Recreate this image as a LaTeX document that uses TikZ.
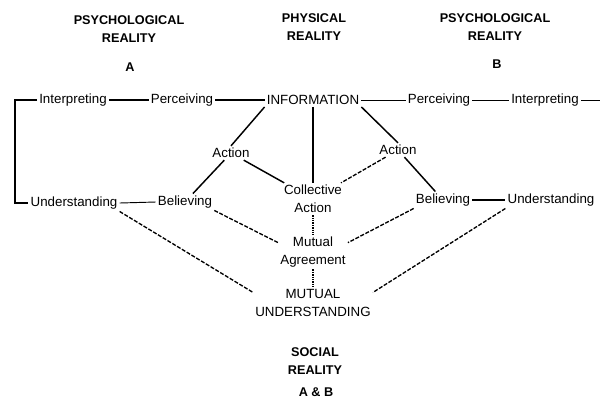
\documentclass[tikz,border=0pt]{standalone}
\usepackage{fontspec}
\setmainfont{Liberation Sans}
\begin{document}
\begin{tikzpicture}[x=0.75pt,y=-0.75pt,
  lbl/.style={inner sep=1.5pt, font=\fontsize{10}{13.5}\selectfont, align=center},
  hdr/.style={inner sep=1pt, font=\fontsize{9.5}{13.5}\selectfont\bfseries, align=center},
  con/.style={line width=1.1pt},
  thinline/.style={line width=0.7pt},
  dsh/.style={line width=1pt, dash pattern=on 3pt off 1.2pt},
  dotline/.style={line width=1.2pt, dash pattern=on 1pt off 0.8pt}]
\useasboundingbox (0,0) rectangle (602,405);
% headings
\node[hdr] (hA) at (129,29) {PSYCHOLOGICAL\\REALITY};
\node[hdr] (lA) at (130,67) {A};
\node[hdr] (hP) at (314,27) {PHYSICAL\\REALITY};
\node[hdr] (hB) at (495,27) {PSYCHOLOGICAL\\REALITY};
\node[hdr] (lB) at (497,64) {B};
\node[hdr] (hS) at (315,361) {SOCIAL\\REALITY};
\node[hdr] (lS) at (316,392) {A \& B};
% top row
\node[lbl] (il) at (73,100) {Interpreting};
\node[lbl] (pl) at (182,100) {Perceiving};
\node[lbl] (info) at (313,100) {INFORMATION};
\node[lbl] (pr) at (439,100) {Perceiving};
\node[lbl] (ir) at (545,100) {Interpreting};
\coordinate (re) at (600,100);
\coordinate (bk) at (15,203);
% middle
\node[lbl] (al) at (231,153) {Action};
\node[lbl] (ar) at (398,150) {Action};
\node[lbl] (ca) at (313,199) {Collective\\Action};
\node[lbl] (ul) at (74,203) {Understanding};
\node[lbl] (bl) at (185,202) {Believing};
\node[lbl] (br) at (443,200) {Believing};
\node[lbl] (ur) at (551,200) {Understanding};
\node[lbl] (ma) at (313,252) {Mutual\\Agreement};
\node[lbl] (mu) at (313,303) {MUTUAL\\UNDERSTANDING};
% connectors
\draw[con] (il.east) -- (pl.west);
\draw[con] (pl.east) -- (info.west);
\draw[thinline] (info.east) -- (pr.west);
\draw[thinline] (pr.east) -- (ir.west);
\draw[thinline] (ir.east) -- (re);
\draw[con] (il.west) -| (bk) -- (ul.west);
\draw[thinline] (ul.east) -- (bl.west);
\draw[con] (br.east) -- (ur.west);
\draw[con] (info.south west) -- (al.north);
\draw[con] (info.south east) -- (ar.north);
\draw[con] (info.south) -- (ca.north);
\draw[con] (al) -- (bl);
\draw[con] (al) -- (ca);
\draw[dsh] (ar) -- (ca);
\draw[con] (ar) -- (br);
\draw[dsh] (bl.south east) -- (ma.165);
\draw[dsh] (br.south west) -- (ma.15);
\draw[dsh] (ul.south east) -- (mu.170);
\draw[dsh] (ur.south west) -- (mu.10);
\draw[dotline] (ca.south) -- (ma.north);
\draw[dotline] (ma.south) -- (mu.north);
\end{tikzpicture}
\end{document}
